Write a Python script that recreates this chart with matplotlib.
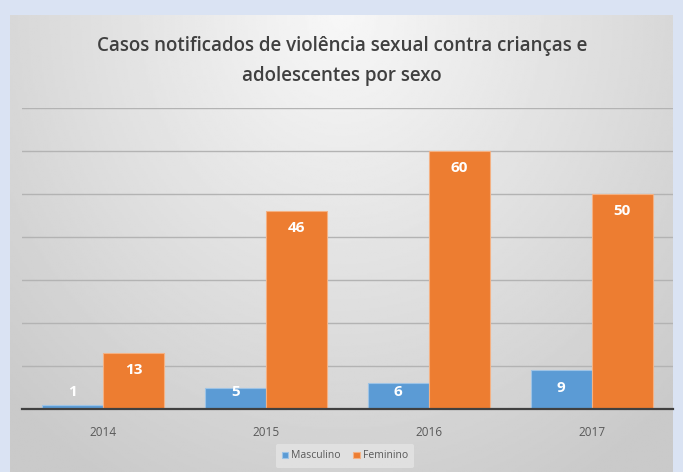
import numpy as np
import matplotlib.pyplot as plt

# data
anos = ['2014', '2015', '2016', '2017']
masculino = [1, 5, 6, 9]
feminino = [13, 46, 60, 50]

cor_masc = '#5B9BD5'
cor_fem = '#ED7D31'

plt.rcParams['font.family'] = ['Open Sans', 'DejaVu Sans']

W, H = 683, 472
fig = plt.figure(figsize=(W / 100, H / 100), dpi=100)
fig.patch.set_facecolor('#dae3f3')

# grey panel with a soft gradient, lighter near the top middle
px0, px1, py0, py1 = 10, 673, 15, 472
painel = fig.add_axes([px0 / W, 0, (px1 - px0) / W, (H - py0) / H])
painel.set_axis_off()
gx, gy = np.meshgrid(np.linspace(-1, 1, 300), np.linspace(0, 1, 300))
dist = np.sqrt((gx * 0.9) ** 2 + (gy * 1.1) ** 2)
shade = 0.97 - 0.18 * np.clip(dist, 0, 1.3) / 1.3
painel.imshow(shade, cmap='gray', vmin=0, vmax=1, aspect='auto',
              extent=[0, 1, 0, 1], origin='upper')
painel.set_xlim(0, 1)
painel.set_ylim(0, 1)

ax = fig.add_axes([22 / W, (H - 409) / H, (673 - 22) / W, (409 - 108) / H])
ax.patch.set_alpha(0)

x = np.arange(len(anos))
larg = 0.375
b1 = ax.bar(x - larg / 2, masculino, larg, color=cor_masc, edgecolor='#9dc3e6',
            linewidth=0.8, label='Masculino', zorder=3)
b2 = ax.bar(x + larg / 2, feminino, larg, color=cor_fem, edgecolor='#f4b183',
            linewidth=0.8, label='Feminino', zorder=3)

ax.set_xlim(-0.5, len(anos) - 0.5)
ax.set_ylim(0, 70)
ax.set_yticks(np.arange(0, 71, 10))
ax.set_yticklabels([])
ax.tick_params(axis='y', length=0)
ax.tick_params(axis='x', length=0, pad=12, labelsize=8.5, labelcolor='#595959')
ax.set_xticks(x)
ax.set_xticklabels(anos)
ax.yaxis.grid(True, color='#b3b3b3', linewidth=1.0, zorder=0)
for lado in ['top', 'left', 'right']:
    ax.spines[lado].set_visible(False)
ax.spines['bottom'].set_color('#404040')
ax.spines['bottom'].set_linewidth(1.6)
ax.spines['bottom'].set_zorder(4)

# value labels inside the top of each bar, kept clear of the axis
for barras, vals in [(b1, masculino), (b2, feminino)]:
    for r, v in zip(barras, vals):
        yl = max(v - 4.0, 4.0)
        ax.text(r.get_x() + r.get_width() / 2, yl, str(v), ha='center',
                va='center', color='white', fontsize=11, fontweight='bold',
                zorder=5)

fig.text(342 / W, 1 - 46 / H, 'Casos notificados de violência sexual contra crianças e',
         ha='center', va='center', fontsize=13.5, fontweight='semibold', color='#404040')
fig.text(342 / W, 1 - 76 / H, 'adolescentes por sexo',
         ha='center', va='center', fontsize=13.5, fontweight='semibold', color='#404040')

leg = fig.legend(handles=[b1, b2], loc='center', bbox_to_anchor=(345 / W, 1 - 456 / H),
                 ncol=2, frameon=True, fontsize=7.5, handlelength=0.6,
                 handleheight=0.6, handletextpad=0.3, columnspacing=1.2,
                 borderpad=0.6)
leg.get_frame().set_facecolor('#e4e4e4')
leg.get_frame().set_edgecolor('none')
leg.get_frame().set_alpha(0.8)
for t in leg.get_texts():
    t.set_color('#595959')

fig.savefig('out.png', dpi=100, facecolor=fig.get_facecolor())
